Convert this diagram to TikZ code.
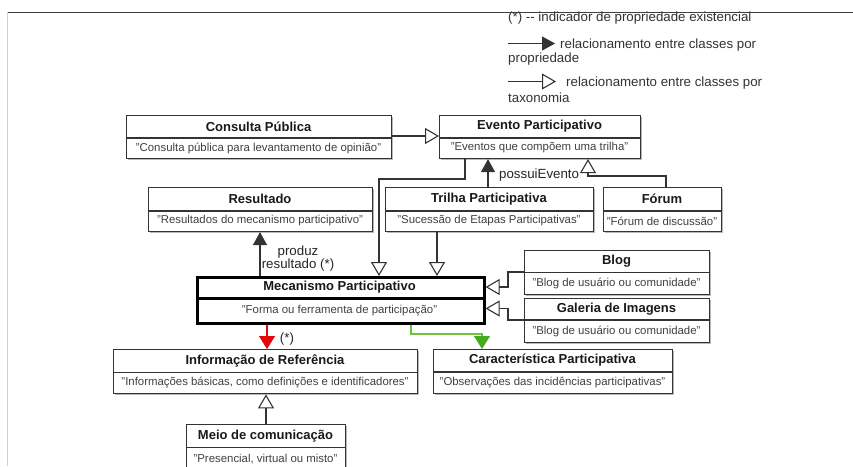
\documentclass[tikz,border=0pt]{standalone}
\usepackage{fontspec}
\setmainfont{Liberation Sans}
\usetikzlibrary{arrows.meta}
\definecolor{redarrow}{RGB}{225,10,10}
\definecolor{greenline}{RGB}{110,195,60}
\definecolor{greenhead}{RGB}{70,170,30}
\tikzset{
  classbox/.style={draw=black!80, line width=1.1pt, fill=white, inner sep=0pt, anchor=north west},
  boxshadow/.style={fill=black!28},
  divline/.style={draw=black!80, line width=1.1pt},
  titletext/.style={font=\fontsize{13}{15}\selectfont\bfseries, text=black!90, inner sep=0pt},
  desctext/.style={font=\fontsize{11.4}{13}\selectfont, text=black!75, inner sep=0pt},
  lbltext/.style={font=\fontsize{13.3}{13.8}\selectfont, text=black!85, inner sep=0pt},
  legtext/.style={font=\fontsize{13.3}{15}\selectfont, text=black!80, inner sep=0pt, anchor=west},
  conn/.style={draw=black!80, line width=1.1pt},
  prop/.style={conn, -{Triangle[length=13pt,width=14pt]}},
  taxo/.style={conn, -{Triangle[length=14pt,width=16pt,fill=white]}},
  redprop/.style={draw=redarrow, line width=1.1pt, -{Triangle[length=13pt,width=16pt]}},
  greenprop/.style={draw=greenline, line width=1.1pt, -{Triangle[length=13pt,width=16pt,color=greenhead]}},
}
\newcommand\umlclass[9][]{%
  \fill[boxshadow] (#3+2,#4+2) rectangle (#5+2,#7+2);
  \node[classbox,#1,minimum width={(#5)-(#3)},minimum height={(#7)-(#4)}] (#2) at (#3,#4) {};
  \draw[divline,#1] (#2.west |- 0,#6) -- (#2.east |- 0,#6);
  \node[titletext] (#2-t) at ({(#3+#5)/2},{(#4+#6)/2}) {#8};
  \node[desctext] (#2-d) at ({(#3+#5)/2},{(#6+#7)/2}) {#9};
}
\begin{document}
\begin{tikzpicture}[x=1pt,y=-1pt]
\useasboundingbox (0,0) rectangle (853,466);
\fill[white] (0,0) rectangle (853,466);
% frame lines
\draw[line width=1.3pt, black!75] (6.5,12.3) -- (853,12.3);
\draw[line width=1pt, black!18] (7.3,12.3) -- (7.3,466);

% legend
\node[legtext] (leg0) at (508,18.5) {(*) -{}- indicador de propriedade existencial};
\coordinate (l1a) at (508,43.5);
\coordinate (l1b) at (555,43.5);
\draw[prop] (l1a) -- (l1b);
\node[legtext] (leg1) at (560,45.5) {relacionamento entre classes por};
\node[legtext] (leg1b) at (508,59) {propriedade};
\coordinate (l2a) at (508,81.5);
\coordinate (l2b) at (556,81.5);
\draw[taxo] (l2a) -- (l2b);
\node[legtext] (leg2) at (566,83.5) {relacionamento entre classes por};
\node[legtext] (leg2b) at (508,97.5) {taxonomia};

% classes
\umlclass{consulta}{126}{115}{391}{138}{158}{Consulta Pública}{"Consulta pública para levantamento de opinião"}
\umlclass{evento}{439}{115}{640}{138}{158}{Evento Participativo}{"Eventos que compõem uma trilha"}
\umlclass{resultado}{148}{187}{372}{211}{231}{Resultado}{"Resultados do mecanismo participativo"}
\umlclass{trilha}{385}{187}{593}{211}{231}{Trilha Participativa}{"Sucessão de Etapas Participativas"}
\umlclass{forum}{603}{187}{721}{211}{231}{Fórum}{"Fórum de discussão"}
\umlclass{blog}{524}{250}{709}{272.7}{294.3}{Blog}{"Blog de usuário ou comunidade"}
\umlclass{galeria}{524}{297.5}{709}{320}{342.3}{Galeria de Imagens}{"Blog de usuário ou comunidade"}
\umlclass[line width=2.6pt,draw=black]{mecanismo}{196}{276}{483}{298.5}{322}{Mecanismo Participativo}{"Forma ou ferramenta de participação"}
\umlclass{info}{113}{349}{417}{372.7}{393.3}{Informação de Referência}{"Informações básicas, como definições e identificadores"}
\umlclass{carac}{433}{349}{672}{372}{393.3}{Característica Participativa}{"Observações das incidências participativas"}
\umlclass{meio}{186}{424}{345}{447.7}{470}{Meio de comunicação}{"Presencial, virtual ou misto"}

% connectors
\draw[taxo] (consulta.east |- 0,136) -- (evento.west |- 0,136);
\draw[prop] (488,0 |- trilha.north) -- (488,0 |- evento.south);
\node[lbltext, anchor=west] (possui) at (499,175) {possuiEvento};
\draw[taxo] (666,0 |- forum.north) -- (666,176) -- (588,176) -- (588,0 |- evento.south);
\draw[taxo] (465,0 |- evento.south) -- (465,179) -- (379,179) -- (379,0 |- mecanismo.north);
\draw[taxo] (437,0 |- trilha.south) -- (437,0 |- mecanismo.north);
\draw[prop] (260,0 |- mecanismo.north) -- (260,0 |- resultado.south);
\node[lbltext, align=center] (produz) at (298,258.5) {produz\\resultado (*)};
\draw[taxo] (blog.west |- 0,272) -- (508,272) -- (508,287) -- (mecanismo.east |- 0,287);
\draw[taxo] (galeria.west |- 0,320) -- (508,320) -- (508,308.5) -- (mecanismo.east |- 0,308.5);
\draw[redprop] (267,0 |- mecanismo.south) -- (267,0 |- info.north);
\node[lbltext] (ast) at (287,339) {(*)};
\draw[greenprop] (411,0 |- mecanismo.south) -- (411,334) -- (482,334) -- (482,0 |- carac.north);
\draw[taxo] (266,0 |- meio.north) -- (266,0 |- info.south);
\end{tikzpicture}
\end{document}
